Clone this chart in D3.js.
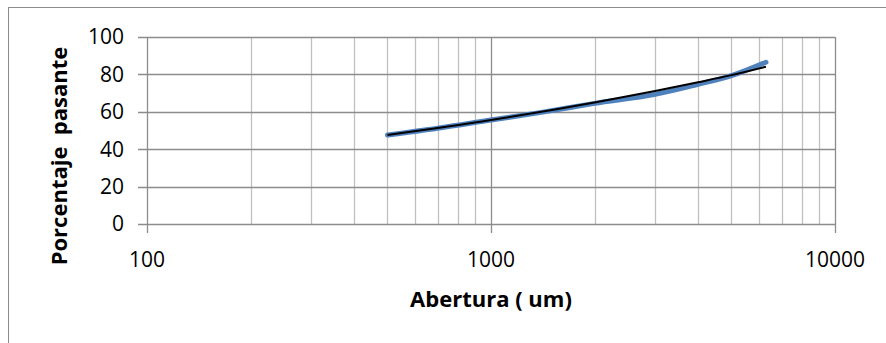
<!DOCTYPE html>
<html><head><meta charset="utf-8">
<script src="https://cdn.jsdelivr.net/npm/d3@7"></script>
<style>body{margin:0;background:#fff}svg{display:block}</style>
</head><body><svg id="c" width="886" height="343"></svg>
<script>
const xTicks = [100, 1000, 10000];
const yTicks = [0, 20, 40, 60, 80, 100];
const dataX = [500, 700, 1000, 1400, 2000, 3000, 4000, 5000, 6300];
const dataY = [47.6, 51.2, 55.6, 59.7, 64.5, 69.3, 74.7, 79.3, 86.5];
const fitX = [500, 1000, 2000, 3000, 4000, 5000, 6300];
const fitY = [47.6, 55.6, 65.0, 71.1, 75.8, 79.6, 84.1];
const xTitle = "Abertura ( um)";
const yTitle = "Porcentaje  pasante";

const svg = d3.select("#c");
const L = 147, R = 835, T = 37, B = 224;
const x = d3.scaleLog().domain([100, 10000]).range([L, R]);
const y = d3.scaleLinear().domain([0, 100]).range([B, T]);
const font = "'Open Sans', sans-serif";

svg.append("rect").attr("x", 8.5).attr("y", 7.5).attr("width", 900).attr("height", 400)
  .attr("fill", "none").attr("stroke", "#8c8c8c").attr("stroke-width", 1);

// minor vertical gridlines
const minor = [];
[100, 1000].forEach(d => { for (let k = 2; k <= 9; k++) minor.push(d * k); });
svg.append("g").selectAll("line").data(minor).join("line")
  .attr("x1", d => Math.round(x(d)) + 0.5).attr("x2", d => Math.round(x(d)) + 0.5)
  .attr("y1", T).attr("y2", B).attr("stroke", "#c0c0c0").attr("stroke-width", 1.3);
// horizontal gridlines
svg.append("g").selectAll("line").data(yTicks).join("line")
  .attr("x1", L - 9).attr("x2", R).attr("y1", d => Math.round(y(d)) + 0.5).attr("y2", d => Math.round(y(d)) + 0.5)
  .attr("stroke", "#8c8c8c").attr("stroke-width", 1.3);
// major vertical
svg.append("g").selectAll("line").data(xTicks).join("line")
  .attr("x1", d => Math.round(x(d)) + 0.5).attr("x2", d => Math.round(x(d)) + 0.5)
  .attr("y1", T).attr("y2", B + 9).attr("stroke", "#8c8c8c").attr("stroke-width", 1.3);

// tick labels
svg.append("g").selectAll("text").data(yTicks).join("text")
  .attr("x", 124).attr("y", d => y(d)).attr("dy", "0.35em").attr("text-anchor", "end")
  .attr("font-family", font).attr("font-size", 21).attr("fill", "#000").text(d => d);
svg.append("g").selectAll("text").data(xTicks).join("text")
  .attr("x", d => x(d)).attr("y", 267).attr("text-anchor", "middle")
  .attr("font-family", font).attr("font-size", 21).attr("fill", "#000").text(d => d);

// titles
svg.append("text").attr("x", 491).attr("y", 307).attr("text-anchor", "middle")
  .attr("font-family", font).attr("font-weight", "bold").attr("font-size", 22).text(xTitle);
svg.append("text").attr("transform", "translate(67,156) rotate(-90)").attr("text-anchor", "middle")
  .attr("font-family", font).attr("font-weight", "bold").attr("font-size", 22)
  .attr("xml:space", "preserve").style("white-space", "pre").text(yTitle);

const line = d3.line().x(d => x(d[0])).y(d => y(d[1])).curve(d3.curveMonotoneX);
svg.append("path").datum(dataX.map((v, i) => [v, dataY[i]]))
  .attr("d", line).attr("fill", "none").attr("stroke", "#4f81bd").attr("stroke-width", 5)
  .attr("stroke-linecap", "round");
svg.append("path").datum(fitX.map((v, i) => [v, fitY[i]]))
  .attr("d", line).attr("fill", "none").attr("stroke", "#000").attr("stroke-width", 2);
</script></body></html>
